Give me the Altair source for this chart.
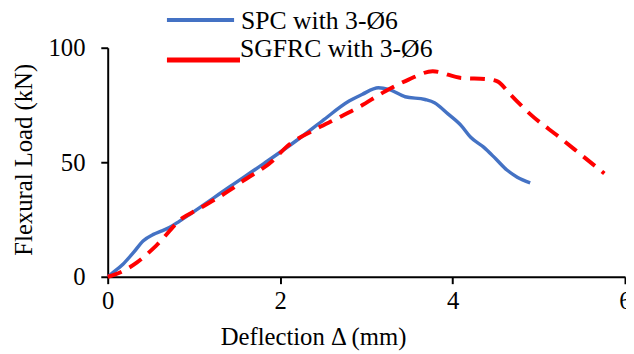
import altair as alt
import pandas as pd

# Series values
spc_x = [0, 0.05, 0.18, 0.3, 0.41, 0.53, 0.62, 0.72, 0.83, 0.95, 1.42, 1.81, 2.19, 2.49, 2.8, 2.95,
         3.14, 3.26, 3.45, 3.68, 3.79, 3.95, 4.1, 4.21, 4.36, 4.5, 4.63, 4.75, 4.9]
spc_y = [0, 1.5, 5.6, 10.6, 15.6, 18.5, 19.9, 21.6, 24.2, 27.2, 39.4, 49.4, 59.5, 68.1, 76.7, 79.6,
         82.5, 81.8, 78.6, 77.4, 76, 71, 66, 60.9, 56.6, 51.5, 46.6, 43.5, 41]

sg_x = [0, 0.15, 0.34, 0.56, 0.87, 1.04, 1.42, 1.56, 1.92, 2.07, 2.38, 2.68, 2.91, 3.22,
        3.49, 3.77, 4.1, 4.4, 4.52, 4.67, 4.9, 5.24, 5.5, 5.76]
sg_y = [0, 2, 6.3, 13.5, 25.7, 29.3, 37.9, 41.6, 50.9, 56.6, 63.8, 69.5, 74, 81,
        86.1, 89.7, 86.8, 86.3, 85.3, 79.6, 71, 60.9, 53, 45.1]

series_names = ["SPC with 3-Ø6", "SGFRC with 3-Ø6"]
series_colors = ["#4472C4", "#FF0000"]
x_ticks = [0, 2, 4, 6]
y_ticks = [0, 50, 100]

FONT = "Liberation Serif, Times New Roman, serif"

spc = pd.DataFrame({"x": spc_x, "y": spc_y, "s": series_names[0]})
sg = pd.DataFrame({"x": sg_x, "y": sg_y, "s": series_names[1]})

xenc = alt.X("x:Q", scale=alt.Scale(domain=[0, 6], nice=False),
             axis=alt.Axis(values=x_ticks, format="d", title="Deflection Δ (mm)", grid=False,
                           titleX=208, titleY=69, titleBaseline="alphabetic",
                           titleAlign="center", labelPadding=5, labelFlush=False,
                           labelFont=FONT, titleFont=FONT))
yenc = alt.Y("y:Q", scale=alt.Scale(domain=[0, 100], nice=False),
             axis=alt.Axis(values=y_ticks, format="d", title="Flexural Load (kN)", grid=False,
                           titleX=-85, titleY=113, titleAngle=270,
                           titleBaseline="middle", titleAlign="center", labelFlush=False,
                           labelPadding=16, labelFont=FONT, titleFont=FONT))

line_spc = alt.Chart(spc).mark_line(
    color=series_colors[0], strokeWidth=3.5, interpolate="monotone"
).encode(x=xenc, y=yenc)

line_sg = alt.Chart(sg).mark_line(
    color=series_colors[1], strokeWidth=4, strokeDash=[15, 9], interpolate="monotone"
).encode(x="x:Q", y="y:Q")

leg_rule1 = alt.Chart(alt.Data(values=[{"s": series_names[0]}])).mark_rule(
    color=series_colors[0], strokeWidth=4
).encode(x=alt.value(60), x2=alt.value(128), y=alt.value(-28))
leg_rule2 = alt.Chart(alt.Data(values=[{"s": series_names[1]}])).mark_rule(
    color=series_colors[1], strokeWidth=5
).encode(x=alt.value(60), x2=alt.value(134), y=alt.value(12.5))
leg_text1 = alt.Chart(alt.Data(values=[{"s": series_names[0]}])).mark_text(
    font=FONT, fontSize=26, align="left", baseline="alphabetic", color="black"
).encode(x=alt.value(135), y=alt.value(-19), text="s:N")
leg_text2 = alt.Chart(alt.Data(values=[{"s": series_names[1]}])).mark_text(
    font=FONT, fontSize=26, align="left", baseline="alphabetic", color="black"
).encode(x=alt.value(134), y=alt.value(9), text="s:N")

chart = alt.layer(line_spc, line_sg, leg_rule1, leg_rule2, leg_text1, leg_text2).properties(
    width=524, height=232,
    autosize="none",
    padding={"left": 101, "top": 38, "right": 1, "bottom": 76},
).configure_view(stroke=None).configure_axis(
    labelFont=FONT, titleFont=FONT, labelFontSize=25, titleFontSize=25,
    labelColor="black", titleColor="black", titleFontWeight="normal",
    domainColor="black", domainWidth=2, tickColor="black", tickWidth=2, tickSize=7,
)

chart.save("out.html", embed_options={"renderer": "svg", "actions": False})
